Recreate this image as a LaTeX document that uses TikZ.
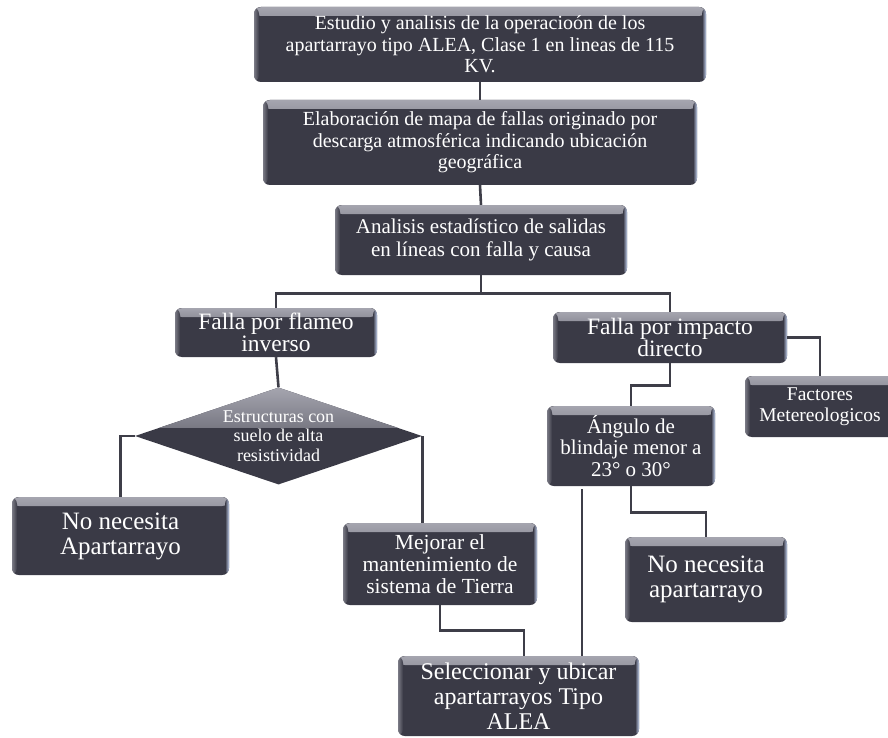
\documentclass[tikz,border=0pt]{standalone}
\usepackage{fontspec}
\setmainfont{Liberation Serif}
\usetikzlibrary{shapes.geometric}
\definecolor{cajafondo}{RGB}{58,58,70}
\definecolor{cajaluz}{RGB}{165,165,175}
\definecolor{cajaborde}{RGB}{190,205,235}
\definecolor{lineacolor}{RGB}{62,62,72}
\tikzset{
  caja/.style={rectangle, rounded corners=7pt, fill=cajafondo, text=white,
    align=center, inner sep=1pt,
    path picture={
      \shade[top color=cajaluz, bottom color=cajafondo]
        (path picture bounding box.north west) rectangle ([yshift=-9pt]path picture bounding box.north east);
      \shade[left color=cajaluz!60!cajafondo, right color=cajafondo]
        (path picture bounding box.north west) rectangle ([xshift=5pt]path picture bounding box.south west);
      \shade[left color=cajafondo, right color=cajaborde]
        ([xshift=-4pt]path picture bounding box.north east) rectangle (path picture bounding box.south east);
    }},
  rombo/.style={diamond, aspect=2.96, inner sep=0pt, fill=cajafondo, text=white,
    align=center, minimum width=287, minimum height=97,
    path picture={
      \shade[top color=cajaluz, bottom color=cajafondo]
        (path picture bounding box.north west) rectangle ([yshift=-40pt]path picture bounding box.north east);
    }},
  linea/.style={draw=lineacolor, line width=2.6pt},
  fa/.style={font=\fontsize{20}{21.5}\selectfont},
  fb/.style={font=\fontsize{21}{23}\selectfont},
  fc/.style={font=\fontsize{23.5}{22}\selectfont},
  fd/.style={font=\fontsize{25}{25}\selectfont},
  fe/.style={font=\fontsize{18}{19.5}\selectfont},
}
\begin{document}
\begin{tikzpicture}[x=1pt,y=-1pt]
\useasboundingbox (0,0) rectangle (888,738);
% cajas superiores
\node[caja,fa,minimum width=452,minimum height=75] (estudio) at (480,44.5)
  {Estudio y analisis de la operacioón de los\\apartarrayo tipo ALEA, Clase 1 en lineas de 115\\KV.};
\node[caja,fa,minimum width=434,minimum height=85] (mapa) at (480,142.5)
  {Elaboración de mapa de fallas originado por\\descarga atmosférica indicando ubicación\\geográfica};
\node[caja,fb,minimum width=292,minimum height=70] (analisis) at (481,240)
  {Analisis estadístico de salidas\\en líneas con falla y causa};
% tipos de falla
\node[caja,fc,minimum width=202,minimum height=49] (flameo) at (276,332.5)
  {Falla por flameo\\inverso};
\node[caja,fc,minimum width=234,minimum height=51] (impacto) at (670,337.5)
  {Falla por impacto\\directo};
\node[caja,font=\fontsize{19.5}{21}\selectfont,minimum width=150,minimum height=61] (factores) at (820,406.5)
  {Factores\\Metereologicos};
\node[caja,font=\fontsize{21}{21.5}\selectfont,minimum width=168,minimum height=80] (angulo) at (631,446)
  {Ángulo de\\blindaje menor a\\23° o 30°};
\node[rombo,fe] (suelo) at (278.5,436)
  {Estructuras con\\suelo de alta\\resistividad};
% resultados
\node[caja,fd,minimum width=217,minimum height=78] (nonec) at (120.5,536)
  {No necesita\\Apartarrayo};
\node[caja,font=\fontsize{21.5}{22}\selectfont,minimum width=194,minimum height=82] (mejorar) at (440,564)
  {Mejorar el\\mantenimiento de\\sistema de Tierra};
\node[caja,fd,minimum width=162,minimum height=85] (nonecb) at (706,579.5)
  {No necesita\\apartarrayo};
\node[caja,font=\fontsize{24}{25}\selectfont,minimum width=241,minimum height=80] (selec) at (518.5,696)
  {Seleccionar y ubicar\\apartarrayos Tipo\\ALEA};
\coordinate (sube) at (582,489);
% conectores
\draw[linea] (estudio.south) -- (mapa.north);
\draw[linea] (mapa.south) -- (analisis.north);
\draw[linea] (analisis.south) -- ++(0,18) -| (flameo.north);
\draw[linea] (analisis.south) -- ++(0,18) -| (impacto.north);
\draw[linea] (flameo.south) -- (suelo.north);
\draw[linea] (suelo.west) -| (nonec.north);
\draw[linea] (suelo.east) -- (suelo.east |- mejorar.north);
\draw[linea] (mejorar.south) -- ++(0,25) -| ([xshift=5.5pt]selec.north);
\draw[linea] (impacto.south) -- ++(0,22) -| (angulo.north);
\draw[linea] (impacto.east) -| (factores.north);
\draw[linea] (angulo.south) -- ++(0,26) -| (nonecb.north);
\draw[linea] (sube) -- (sube |- selec.north);
\end{tikzpicture}
\end{document}
